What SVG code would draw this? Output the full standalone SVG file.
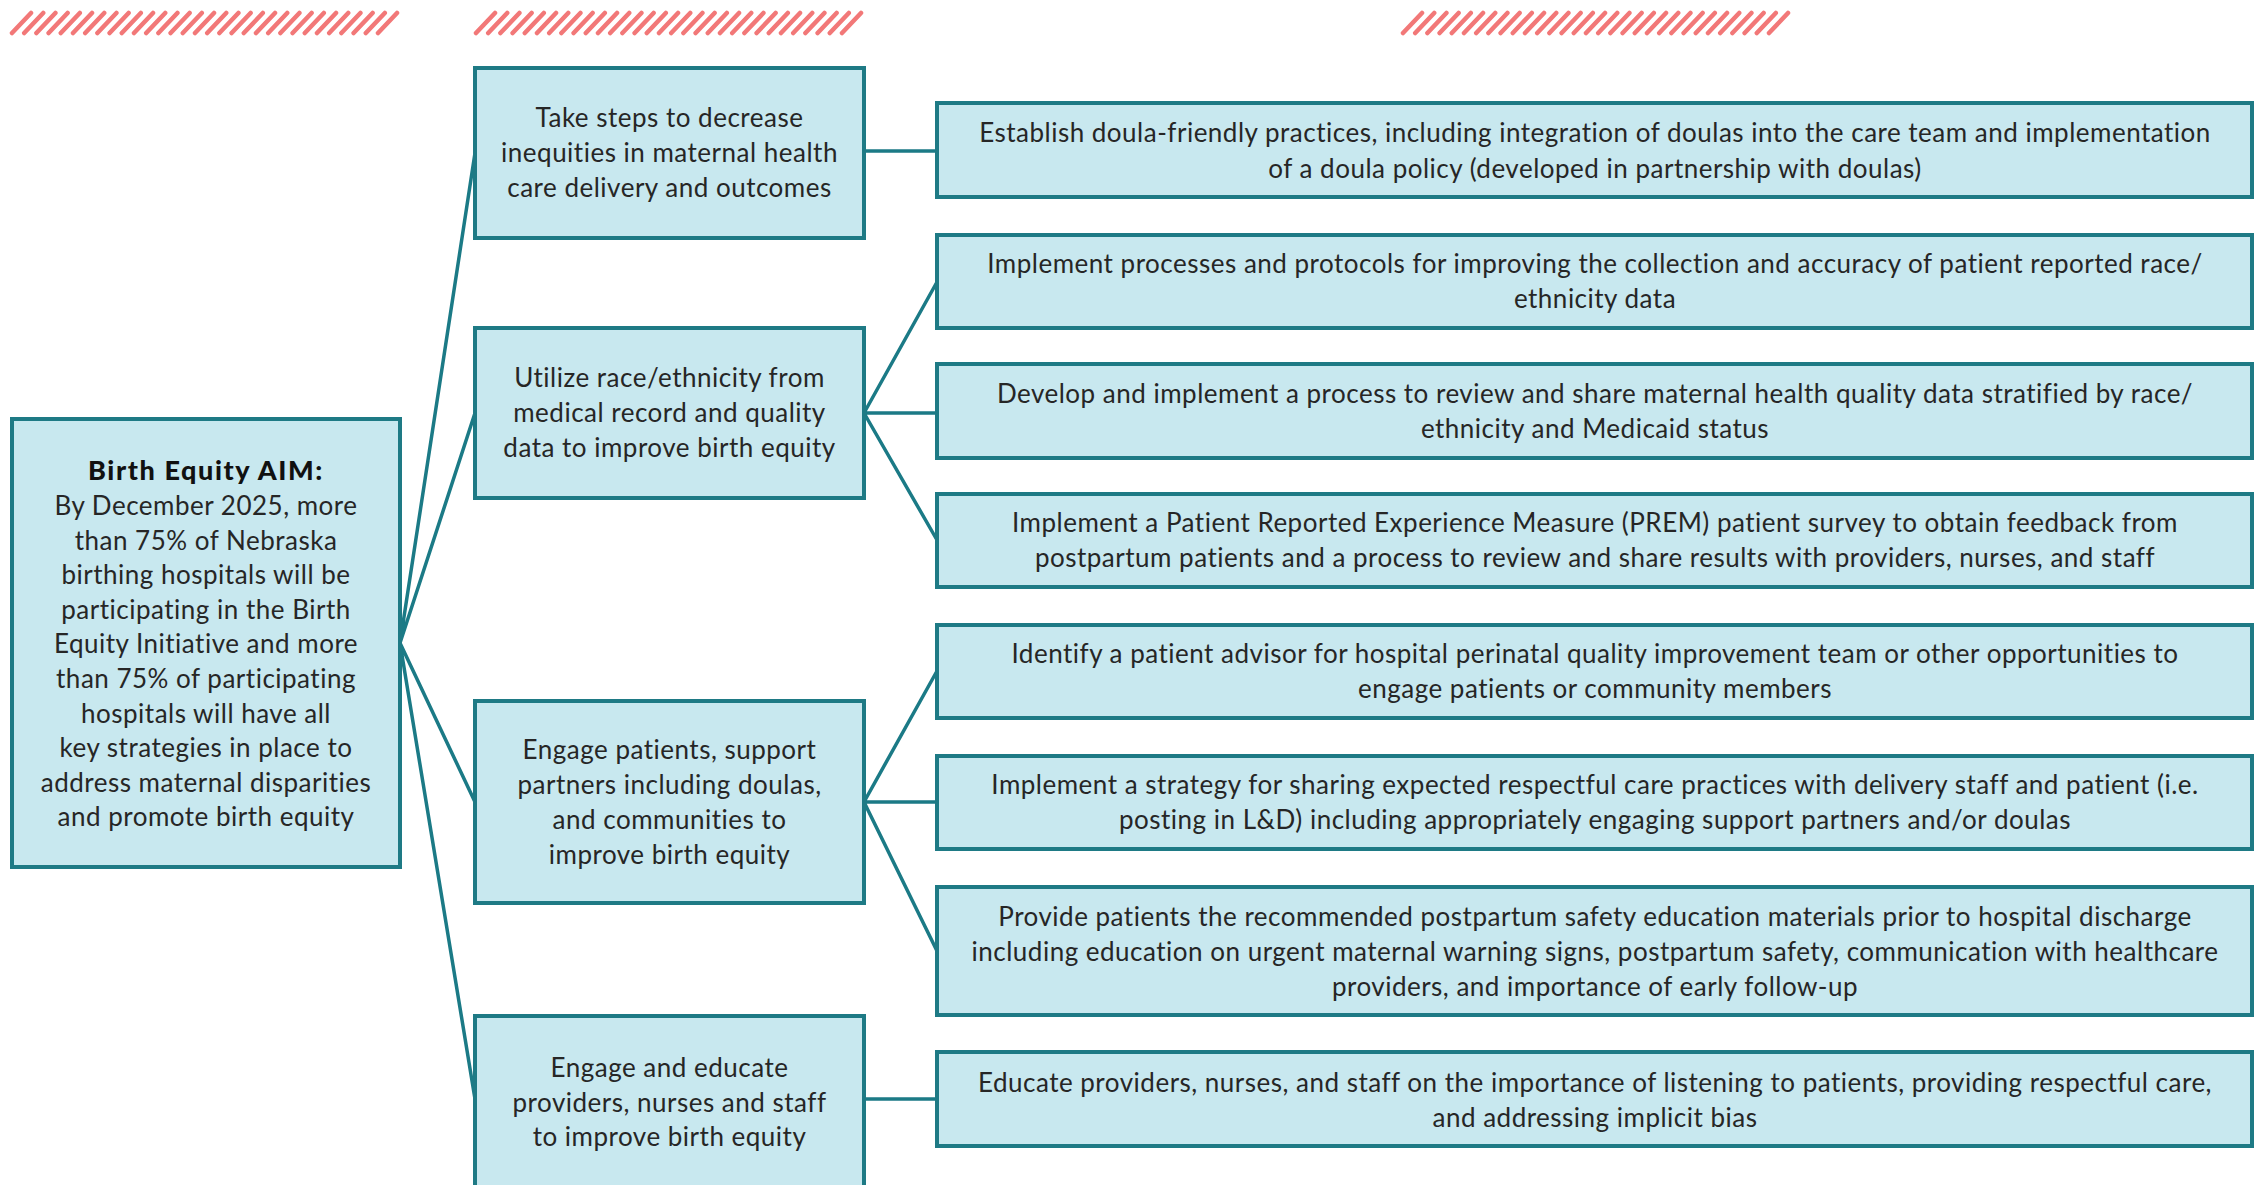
<svg xmlns="http://www.w3.org/2000/svg" xmlns:xlink="http://www.w3.org/1999/xlink" width="2257" height="1185" viewBox="0 0 2257 1185">
<style>
.box{fill:#c8e8ef;stroke:#1e7a85;stroke-width:4}
.t{font-family:Lato,"Liberation Sans",sans-serif;font-size:26px;letter-spacing:0.5px;fill:#262626;text-anchor:middle}
.b{font-weight:900;fill:#111;font-size:27px;letter-spacing:1.6px}
.conn{stroke:#1b7a86;stroke-width:3.5;fill:none;stroke-linecap:round}
.hatch{stroke:#f27878;stroke-width:4.5;stroke-linecap:round;fill:none}
</style>
<defs>
<path id="stripes" class="hatch" d="M2 33l19-20M14.2 33l19-20M26.4 33l19-20M38.6 33l19-20M50.8 33l19-20M63 33l19-20M75.2 33l19-20M87.4 33l19-20M99.6 33l19-20M111.8 33l19-20M124 33l19-20M136.2 33l19-20M148.4 33l19-20M160.6 33l19-20M172.8 33l19-20M185 33l19-20M197.2 33l19-20M209.4 33l19-20M221.6 33l19-20M233.8 33l19-20M246 33l19-20M258.2 33l19-20M270.4 33l19-20M282.6 33l19-20M294.8 33l19-20M307 33l19-20M319.2 33l19-20M331.4 33l19-20M343.6 33l19-20M355.8 33l19-20M368 33l19-20"/>
</defs>
<rect width="2257" height="1185" fill="#ffffff"/>
<g id="hatches">
<use xlink:href="#stripes" href="#stripes" x="10"/>
<use xlink:href="#stripes" href="#stripes" x="474"/>
<use xlink:href="#stripes" href="#stripes" x="1401"/>
</g>
<g id="connectors">
<path class="conn" d="M400 643L475 153M400 643L475 413M400 643L475 802M400 643L475 1099"/>
<path class="conn" d="M864 151H937"/>
<path class="conn" d="M864 413L937 282M864 413H937M864 413L937 540"/>
<path class="conn" d="M864 802L937 671M864 802H937M864 802L937 951"/>
<path class="conn" d="M864 1099H937"/>
</g>
<g id="aim">
<rect class="box" x="12" y="419" width="388" height="448"/>
<text class="t b" x="206" y="480">Birth Equity AIM:</text>
<text class="t" x="206" y="515">By December 2025, more</text>
<text class="t" x="206" y="549.6">than 75% of Nebraska</text>
<text class="t" x="206" y="584.2">birthing hospitals will be</text>
<text class="t" x="206" y="618.8">participating in the Birth</text>
<text class="t" x="206" y="653.4">Equity Initiative and more</text>
<text class="t" x="206" y="688">than 75% of participating</text>
<text class="t" x="206" y="722.6">hospitals will have all</text>
<text class="t" x="206" y="757.2">key strategies in place to</text>
<text class="t" x="206" y="791.8">address maternal disparities</text>
<text class="t" x="206" y="826.4">and promote birth equity</text>
</g>
<g id="s1">
<rect class="box" x="475" y="68" width="389" height="170"/>
<text class="t" x="669.5" y="127">Take steps to decrease</text>
<text class="t" x="669.5" y="162">inequities in maternal health</text>
<text class="t" x="669.5" y="197">care delivery and outcomes</text>
</g>
<g id="s2">
<rect class="box" x="475" y="328" width="389" height="170"/>
<text class="t" x="669.5" y="387">Utilize race/ethnicity from</text>
<text class="t" x="669.5" y="422">medical record and quality</text>
<text class="t" x="669.5" y="457">data to improve birth equity</text>
</g>
<g id="s3">
<rect class="box" x="475" y="701" width="389" height="202"/>
<text class="t" x="669.5" y="759">Engage patients, support</text>
<text class="t" x="669.5" y="794">partners including doulas,</text>
<text class="t" x="669.5" y="829">and communities to</text>
<text class="t" x="669.5" y="864">improve birth equity</text>
</g>
<g id="s4">
<rect class="box" x="475" y="1016" width="389" height="180"/>
<text class="t" x="669.5" y="1077">Engage and educate</text>
<text class="t" x="669.5" y="1112">providers, nurses and staff</text>
<text class="t" x="669.5" y="1146">to improve birth equity</text>
</g>
<g id="r1">
<rect class="box" x="937" y="103" width="1315" height="94"/>
<text class="t" x="1595" y="142">Establish doula-friendly practices, including integration of doulas into the care team and implementation</text>
<text class="t" x="1595" y="178">of a doula policy (developed in partnership with doulas)</text>
</g>
<g id="r2">
<rect class="box" x="937" y="235" width="1315" height="93"/>
<text class="t" x="1595" y="273">Implement processes and protocols for improving the collection and accuracy of patient reported race/</text>
<text class="t" x="1595" y="308">ethnicity data</text>
</g>
<g id="r3">
<rect class="box" x="937" y="364" width="1315" height="94"/>
<text class="t" x="1595" y="403">Develop and implement a process to review and share maternal health quality data stratified by race/</text>
<text class="t" x="1595" y="438">ethnicity and Medicaid status</text>
</g>
<g id="r4">
<rect class="box" x="937" y="494" width="1315" height="93"/>
<text class="t" x="1595" y="532">Implement a Patient Reported Experience Measure (PREM) patient survey to obtain feedback from</text>
<text class="t" x="1595" y="567">postpartum patients and a process to review and share results with providers, nurses, and staff</text>
</g>
<g id="r5">
<rect class="box" x="937" y="625" width="1315" height="93"/>
<text class="t" x="1595" y="663">Identify a patient advisor for hospital perinatal quality improvement team or other opportunities to</text>
<text class="t" x="1595" y="698">engage patients or community members</text>
</g>
<g id="r6">
<rect class="box" x="937" y="756" width="1315" height="93"/>
<text class="t" x="1595" y="794">Implement a strategy for sharing expected respectful care practices with delivery staff and patient (i.e.</text>
<text class="t" x="1595" y="829">posting in L&amp;D) including appropriately engaging support partners and/or doulas</text>
</g>
<g id="r7">
<rect class="box" x="937" y="887" width="1315" height="128"/>
<text class="t" x="1595" y="926">Provide patients the recommended postpartum safety education materials prior to hospital discharge</text>
<text class="t" x="1595" y="961">including education on urgent maternal warning signs, postpartum safety, communication with healthcare</text>
<text class="t" x="1595" y="996">providers, and importance of early follow-up</text>
</g>
<g id="r8">
<rect class="box" x="937" y="1052" width="1315" height="94"/>
<text class="t" x="1595" y="1092">Educate providers, nurses, and staff on the importance of listening to patients, providing respectful care,</text>
<text class="t" x="1595" y="1127">and addressing implicit bias</text>
</g>
</svg>
